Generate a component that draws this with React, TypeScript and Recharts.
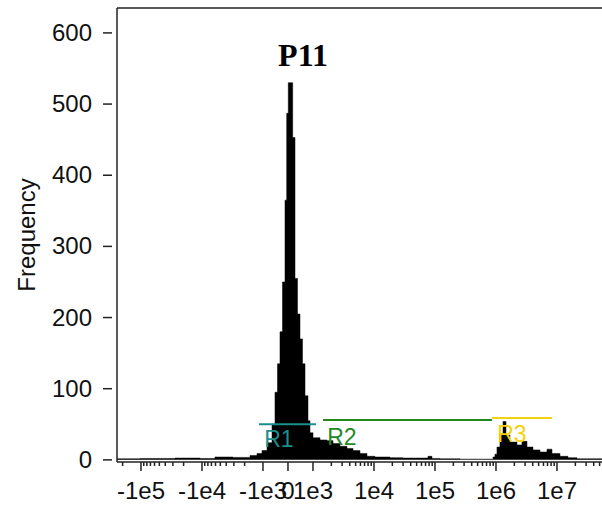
import { ComposedChart, Area, XAxis, YAxis, ReferenceLine, ReferenceDot } from 'recharts';

const FONT = '"Liberation Sans", Arial, sans-serif';

// histogram bins on the display (biexponential) scale, 1 unit = 1 decade
const BIN_START = [
  -2.803, -2.426, -1.852, -1.443, -1.197, -0.902, -0.623, -0.508, -0.426, -0.344,
  -0.262, -0.213, -0.172, -0.131, -0.09, -0.049, -0.021, 0.005, 0.077, 0.115,
  0.156, 0.197, 0.238, 0.279, 0.328, 0.361, 0.41, 0.525, 0.639, 0.738,
  0.852, 0.967, 1.066, 1.18, 1.295, 1.426, 1.672, 1.885, 2.295, 2.361,
  2.492, 2.82, 3.361, 3.393, 3.426, 3.475, 3.525, 3.574, 3.639, 3.754,
  3.836, 3.918, 4.016, 4.131, 4.246, 4.328, 4.459, 4.59, 4.738, 5.148,
];
const COUNTS = [
  1.5, 2, 2.5, 2, 4, 3.5, 6, 9, 13, 24,
  50, 95, 135, 180, 250, 365, 487, 530, 453, 255,
  205, 170, 135, 90, 55, 38, 31, 28, 27, 23,
  19, 16, 13, 9, 5, 4, 3, 2.5, 5, 2,
  1.5, 1, 4, 8, 18, 37, 54, 35, 25, 21,
  26, 18, 14, 11, 15, 9, 5, 3, 1.5, 1.5,
];

const Y_TICKS = [0, 100, 200, 300, 400, 500, 600];
const X_MAJOR = [-1e5, -1e4, -1e3, 0, 1e3, 1e4, 1e5, 1e6, 1e7];
const X_LABELS = ['-1e5', '-1e4', '-1e3', '0', '1e3', '1e4', '1e5', '1e6', '1e7'];

// gates: name, start, end, level, label position
const GATE_NAMES = ['R1', 'R2', 'R3'];
const GATE_COLORS = ['#1b8e8e', '#22891f', '#f3d20c'];
const GATE_FROM = [-0.475, 0.574, 3.344];
const GATE_TO = [0.459, 3.344, 4.328];
const GATE_LEVEL = [50, 56, 59];
const GATE_LABEL_X = [-0.148, 0.885, 3.672];
const GATE_LABEL_Y = [30, 32, 37];

const X_MIN = -2.803;
const X_MAX = 5.148;

const toDisplay = (v: number) => {
  const a = Math.abs(v);
  if (a < 1e3) return (v / 1e3) * 0.41;
  return Math.sign(v) * (0.41 + Math.log10(a / 1e3));
};

const majorPos = X_MAJOR.map(toDisplay);
const minorPos: number[] = [];
[1e3, 1e4, 1e5, 1e6, 1e7].forEach((dec) => {
  for (let m = 2; m <= 9; m++) {
    minorPos.push(toDisplay(m * dec));
    minorPos.push(toDisplay(-m * dec));
  }
});
const xTicks = [...majorPos, ...minorPos.filter((p) => p > X_MIN && p < X_MAX)].sort((a, b) => a - b);

const data = BIN_START.map((x, i) => ({ x, count: COUNTS[i] }));

const XTick = (props: any) => {
  const { x, y, payload } = props;
  const idx = majorPos.findIndex((p) => Math.abs(p - payload.value) < 1e-6);
  const major = idx >= 0;
  return (
    <g>
      <line x1={x} x2={x} y1={y} y2={y + (major ? 9 : 4)} stroke="#222" strokeWidth={1.5} />
      {major && (
        <text x={x} y={y + 37} textAnchor="middle" fontSize={24} fontFamily={FONT} fill="#111">
          {X_LABELS[idx]}
        </text>
      )}
    </g>
  );
};

const YTick = (props: any) => {
  const { x, y, payload } = props;
  return (
    <g>
      <line x1={x - 14} x2={x - 5} y1={y} y2={y} stroke="#222" strokeWidth={1.5} />
      <text x={x - 25} y={y + 8} textAnchor="end" fontSize={24} fontFamily={FONT} fill="#111">
        {payload.value}
      </text>
    </g>
  );
};

export default function App() {
  return (
    <div style={{ position: 'absolute', left: 0, top: 0, width: 602, height: 507, background: '#fff' }}>
      <ComposedChart width={602} height={507} data={data} margin={{ top: 8, right: 0, bottom: 0, left: 0 }}>
        <XAxis
          dataKey="x"
          type="number"
          domain={[X_MIN, X_MAX]}
          allowDataOverflow
          ticks={xTicks}
          interval={0}
          tick={XTick}
          tickLine={false}
          tickSize={0}
          tickMargin={0}
          height={45}
          axisLine={{ stroke: '#222', strokeWidth: 1.5 }}
        />
        <YAxis
          type="number"
          domain={[-3, 635]}
          allowDataOverflow
          ticks={Y_TICKS}
          interval={0}
          tick={YTick}
          tickLine={false}
          tickSize={0}
          tickMargin={0}
          width={117}
          axisLine={{ stroke: '#222', strokeWidth: 1.5 }}
          label={{
            value: 'Frequency',
            angle: -90,
            position: 'insideLeft',
            offset: 26,
            style: { textAnchor: 'middle', fontSize: 24, fontFamily: FONT, fill: '#111' },
          }}
        />
        <ReferenceLine y={635} stroke="#222" strokeWidth={1.5} />
        <Area
          type="stepAfter"
          dataKey="count"
          stroke="#000"
          strokeWidth={0.5}
          fill="#000"
          fillOpacity={1}
          baseValue={0}
          dot={false}
          activeDot={false}
          isAnimationActive={false}
        />
        {GATE_NAMES.map((name, i) => (
          <ReferenceLine
            key={name}
            segment={[
              { x: GATE_FROM[i], y: GATE_LEVEL[i] },
              { x: GATE_TO[i], y: GATE_LEVEL[i] },
            ]}
            stroke={GATE_COLORS[i]}
            strokeWidth={2}
          />
        ))}
        {GATE_NAMES.map((name, i) => (
          <ReferenceDot
            key={name + '-label'}
            x={GATE_LABEL_X[i]}
            y={GATE_LABEL_Y[i]}
            r={0}
            stroke="none"
            fill="none"
            label={{ value: name, position: 'center', fill: GATE_COLORS[i], fontSize: 23, fontFamily: FONT }}
          />
        ))}
      </ComposedChart>
      <div
        style={{
          position: 'absolute',
          left: 0,
          top: 39,
          width: 606,
          textAlign: 'center',
          fontFamily: '"Liberation Serif", "Times New Roman", serif',
          fontWeight: 'bold',
          fontSize: 32,
          lineHeight: '32px',
          color: '#000',
        }}
      >
        P11
      </div>
    </div>
  );
}
